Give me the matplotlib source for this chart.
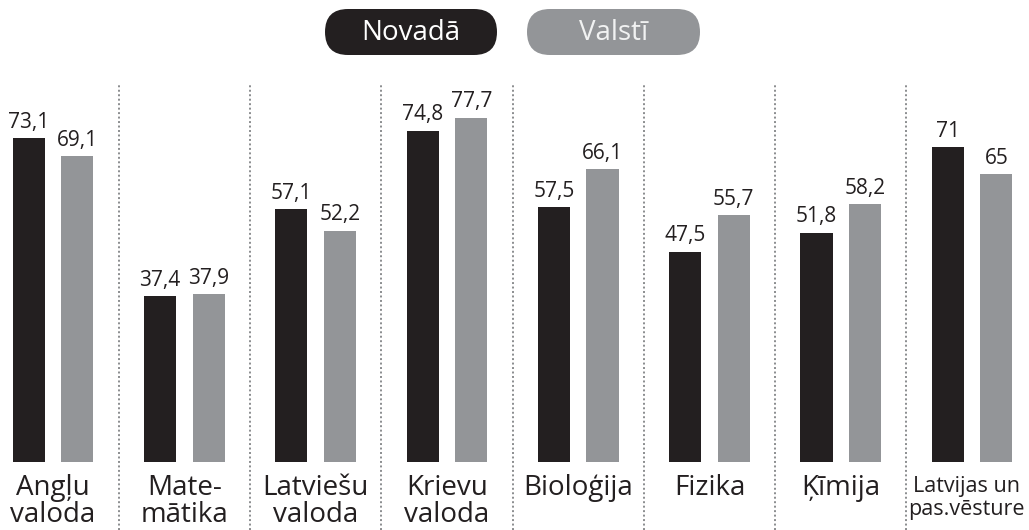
import matplotlib
matplotlib.use("Agg")
import matplotlib.pyplot as plt
from matplotlib.patches import FancyBboxPatch

plt.rcParams["font.family"] = ["Open Sans", "DejaVu Sans"]

# dati
categories = ["Angļu\nvaloda", "Mate-\nmātika", "Latviešu\nvaloda", "Krievu\nvaloda",
              "Bioloģija", "Fizika", "Ķīmija", "Latvijas un\npas.vēsture"]
novada = [73.1, 37.4, 57.1, 74.8, 57.5, 47.5, 51.8, 71]
valsti = [69.1, 37.9, 52.2, 77.7, 66.1, 55.7, 58.2, 65]
series_names = ["Novadā", "Valstī"]

BLACK = "#231f20"
GRAY = "#939598"

W, H = 1029, 530
# pikseļu mērogs: grupu centri un nulles līnija
X0, DX = 53, 131.3
Y0, DY = 462, 4.43


def fmt(v):
    s = f"{v:.1f}".replace(".", ",")
    return s[:-2] if s.endswith(",0") else s


fig = plt.figure(figsize=(W / 100, H / 100), dpi=100)
ax = fig.add_axes([0, 0, 1, 1])
ax.set_xlim(-X0 / DX, (W - X0) / DX)
ax.set_ylim(-(H - Y0) / DY, Y0 / DY)
ax.axis("off")

x = list(range(len(categories)))
off, bw = 0.185, 0.244
ax.bar([i - off for i in x], novada, width=bw, color=BLACK, zorder=2)
ax.bar([i + off for i in x], valsti, width=bw, color=GRAY, zorder=2)

for i in x:
    ax.text(i - off, novada[i] + 1.2, fmt(novada[i]), ha="center", va="bottom",
            fontsize=15, color=BLACK)
    ax.text(i + off, valsti[i] + 1.2, fmt(valsti[i]), ha="center", va="bottom",
            fontsize=15, color=BLACK)
    last = i == len(categories) - 1
    # pēdējais nosaukums ir garš, tāpēc mazliet mazāks
    ax.text(i - (0.04 if last else 0), (Y0 - (476 if last else 474)) / DY, categories[i],
            ha="center", va="top", fontsize=15.5 if last else 20, color=BLACK,
            linespacing=1.15 if last else 0.95)

# punktotās atdalītājlīnijas
for i in x[:-1]:
    ax.vlines(i + 0.5, -(H - Y0) / DY, (Y0 - 85) / DY, colors="#8a8c8e",
              linewidth=1.4, linestyles=(0, (1, 1.3)), zorder=1)

# leģenda (pildīti ovāli)
lax = fig.add_axes([0, 0, 1, 1], zorder=3)
lax.set_xlim(0, W)
lax.set_ylim(H, 0)
lax.axis("off")
for (x1, x2), name, fc, tc in [((325, 497), series_names[0], BLACK, "white"),
                               ((527, 700), series_names[1], GRAY, "#f1f2f2")]:
    lax.add_patch(FancyBboxPatch((x1, 9), x2 - x1, 46,
                                 boxstyle="round,pad=0,rounding_size=23",
                                 fc=fc, ec="none"))
    lax.text((x1 + x2) / 2, 33, name, ha="center", va="center",
             fontsize=20, color=tc)

fig.savefig("out.png", dpi=100)
